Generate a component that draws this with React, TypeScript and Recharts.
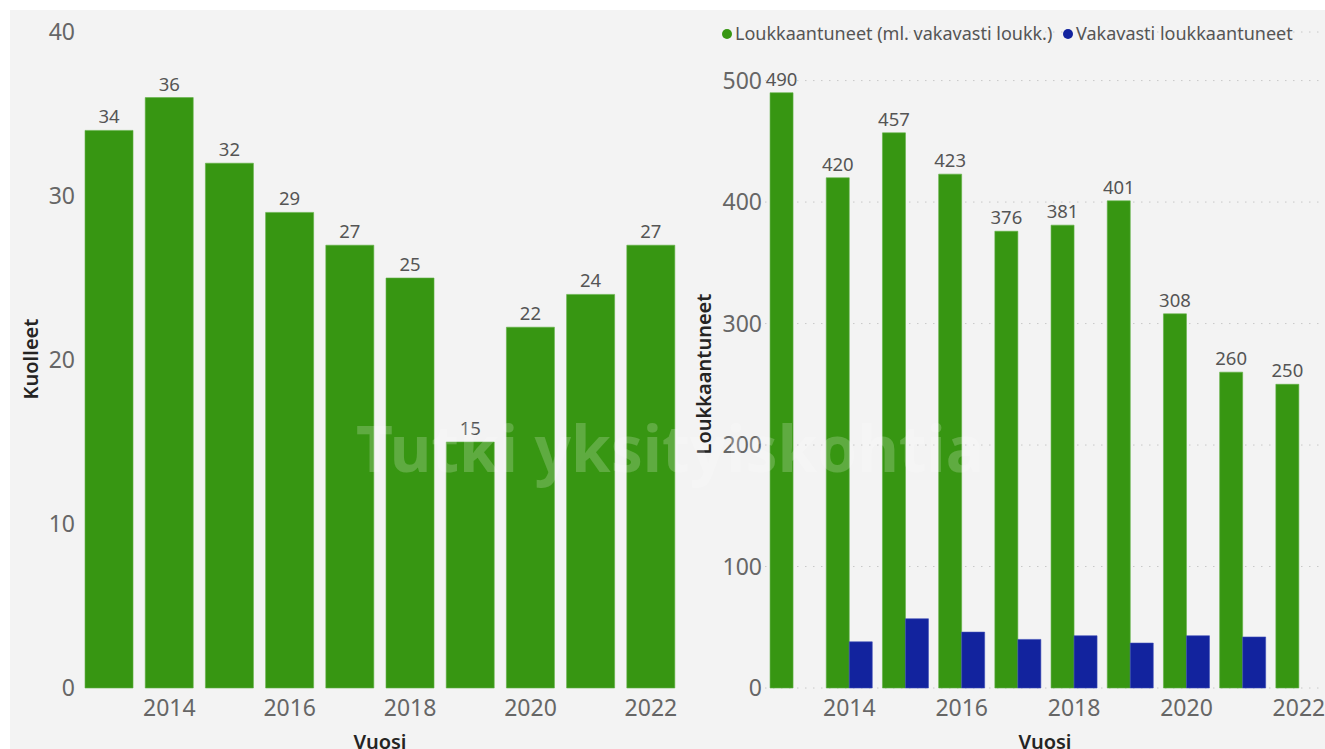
import { BarChart, Bar, XAxis, YAxis, CartesianGrid, LabelList } from 'recharts';

const YEARS = ['2013', '2014', '2015', '2016', '2017', '2018', '2019', '2020', '2021', '2022'];
const KUOLLEET = [34, 36, 32, 29, 27, 25, 15, 22, 24, 27];
const LOUKKAANTUNEET = [490, 420, 457, 423, 376, 381, 401, 308, 260, 250];
const VAKAVASTI = [null, 38, 57, 46, 40, 43, 37, 43, 42, null];
const LEFT_TICKS = [0, 10, 20, 30, 40];
const RIGHT_TICKS = [0, 100, 200, 300, 400, 500];

const GREEN = '#379612';
const BLUE = '#12239E';
const FONT = '"Noto Sans", "Open Sans", sans-serif';

const deathData = YEARS.map((y, i) => ({ year: y, kuolleet: KUOLLEET[i] }));
const injuryData = YEARS.map((y, i) => ({
  year: y,
  loukk: LOUKKAANTUNEET[i],
  vakavasti: VAKAVASTI[i],
}));

const evenYear = (v: string) => (Number(v) % 2 === 0 ? v : '');
const tickStyle = { fontSize: 23, fill: '#666', fontFamily: FONT };
const labelStyle = { fontSize: 18.5, fill: '#555', fontFamily: FONT };

export default function App() {
  return (
    <div style={{ position: 'absolute', left: 0, top: 0, width: 1325, height: 749, background: '#fff', overflow: 'hidden', fontFamily: FONT }}>
      {/* panel background */}
      <div style={{ position: 'absolute', left: 10, top: 10, width: 1315, height: 739, background: '#f3f3f3' }} />

      {/* Kuolleet */}
      <div style={{ position: 'absolute', left: 0, top: 0 }}>
        <BarChart width={700} height={749} data={deathData} margin={{ top: 32, right: 19, bottom: 0, left: 0 }} barCategoryGap="10%">
          <XAxis dataKey="year" height={61} tickLine={false} axisLine={false} tickSize={0} tickMargin={12} tickFormatter={evenYear} interval={0} tick={tickStyle} />
          <YAxis width={79} domain={[0, 40]} ticks={LEFT_TICKS} tickLine={false} axisLine={false} tickSize={0} tickMargin={4} tick={tickStyle} />
          <Bar dataKey="kuolleet" fill={GREEN} stroke="#5fb043" strokeWidth={0.6} isAnimationActive={false}>
            <LabelList dataKey="kuolleet" position="top" offset={7} style={labelStyle} />
          </Bar>
        </BarChart>
      </div>

      {/* Loukkaantuneet */}
      <div style={{ position: 'absolute', left: 692, top: 0 }}>
        <BarChart width={635} height={749} data={injuryData} margin={{ top: 32, right: 0, bottom: 0, left: 0 }} barCategoryGap="9%" barGap={0}>
          <CartesianGrid vertical={false} stroke="#c8c8c8" strokeDasharray="1.5 6.5" />
          <XAxis dataKey="year" height={61} tickLine={false} axisLine={false} tickSize={0} tickMargin={12} tickFormatter={evenYear} interval={0} tick={tickStyle} />
          <YAxis width={73} domain={[0, 540]} ticks={RIGHT_TICKS} tickLine={false} axisLine={false} tickSize={0} tickMargin={3} tick={tickStyle} />
          <Bar dataKey="loukk" fill={GREEN} stroke="#5fb043" strokeWidth={0.6} isAnimationActive={false}>
            <LabelList dataKey="loukk" position="top" offset={7} style={labelStyle} />
          </Bar>
          <Bar dataKey="vakavasti" fill={BLUE} stroke="#3b4bb5" strokeWidth={0.6} isAnimationActive={false} />
        </BarChart>
      </div>

      {/* axis titles, legend, watermark */}
      <svg width={1325} height={749} style={{ position: 'absolute', left: 0, top: 0, pointerEvents: 'none' }}>
        <text x={0} y={0} transform="translate(38,359) rotate(-90)" textAnchor="middle" fontSize={20} fontWeight={600} fill="#252423" fontFamily={FONT}>Kuolleet</text>
        <text x={0} y={0} transform="translate(711,374) rotate(-90)" textAnchor="middle" fontSize={20} fontWeight={600} fill="#252423" fontFamily={FONT}>Loukkaantuneet</text>
        <text x={380} y={749} textAnchor="middle" fontSize={20} fontWeight={600} fill="#252423" fontFamily={FONT}>Vuosi</text>
        <text x={1045} y={749} textAnchor="middle" fontSize={20} fontWeight={600} fill="#252423" fontFamily={FONT}>Vuosi</text>

        <circle cx={727} cy={34} r={5} fill={GREEN} />
        <text x={735} y={40} fontSize={18} fill="#555" fontFamily={FONT}>Loukkaantuneet (ml. vakavasti loukk.)</text>
        <circle cx={1068} cy={34} r={5} fill={BLUE} />
        <text x={1076} y={40} fontSize={18} fill="#555" fontFamily={FONT}>Vakavasti loukkaantuneet</text>

        <text x={670} y={472} textAnchor="middle" fontSize={64} fontWeight="bold" fill="#fff" fillOpacity={0.2} fontFamily={FONT}>Tutki yksityiskohtia</text>
      </svg>
    </div>
  );
}
